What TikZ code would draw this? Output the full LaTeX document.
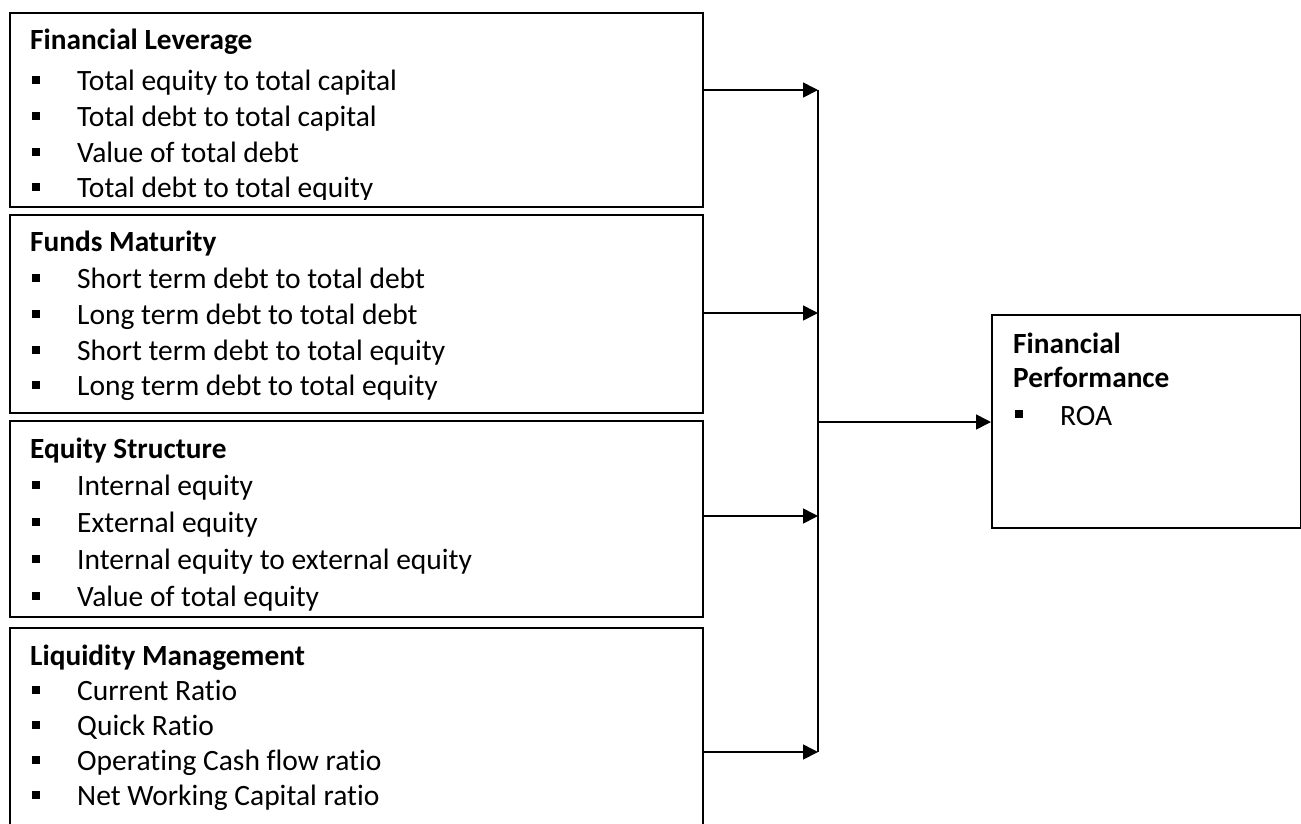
\documentclass[tikz,border=0pt]{standalone}
\usepackage{fontspec}
\setmainfont{Carlito}[Ligatures=NoCommon]
\usetikzlibrary{arrows.meta}
\begin{document}
\begin{tikzpicture}[x=1pt,y=-1pt,
  box/.style={draw=black,line width=1.6pt,rectangle,inner sep=0pt,anchor=north west},
  head/.style={anchor=base west,inner sep=0pt,font=\fontsize{29.3}{35}\selectfont\bfseries},
  itm/.style={anchor=base west,inner sep=0pt,font=\fontsize{29.5}{35}\selectfont},
  bul/.style={fill=black,rectangle,inner sep=0pt,minimum size=8pt},
  arr/.style={line width=1.6pt,-{Triangle[length=15pt,width=15pt]}},
  conn/.style={line width=1.6pt}]
\clip (0,0) rectangle (1301,823);
% boxes
\node[box,minimum width=693pt,minimum height=194pt] (b1) at (9,12) {};
\node[box,minimum width=693pt,minimum height=198pt] (b2) at (9,214) {};
\node[box,minimum width=693pt,minimum height=196pt] (b3) at (9,420) {};
\node[box,minimum width=693pt,minimum height=230pt] (b4) at (9,627) {};
\node[box,minimum width=309pt,minimum height=213pt] (perf) at (991,314) {};
% box 1
\node[head] (h1) at (30,49) {Financial Leverage};
\node[bul] (u11) at (36,80) {}; \node[itm] (t11) at (77,90) {Total equity to total capital};
\node[bul] (u12) at (36,116) {}; \node[itm] (t12) at (77,126) {Total debt to total capital};
\node[bul] (u13) at (36,152) {}; \node[itm] (t13) at (77,162) {Value of total debt};
\node[bul] (u14) at (36,187) {};
\begin{scope}
\clip (0,150) rectangle (700,199);
\node[itm] (t14) at (77,197) {Total debt to total equity};
\end{scope}
% box 2
\node[head] (h2) at (30,251) {Funds Maturity};
\node[bul] (u21) at (36,278) {}; \node[itm] (t21) at (77,288) {Short term debt to total debt};
\node[bul] (u22) at (36,314) {}; \node[itm] (t22) at (77,324) {Long term debt to total debt};
\node[bul] (u23) at (36,350) {}; \node[itm] (t23) at (77,360) {Short term debt to total equity};
\node[bul] (u24) at (36,385) {}; \node[itm] (t24) at (77,395) {Long term debt to total equity};
% box 3
\node[head] (h3) at (30,458) {Equity Structure};
\node[bul] (u31) at (36,485) {}; \node[itm] (t31) at (77,495) {Internal equity};
\node[bul] (u32) at (36,522) {}; \node[itm] (t32) at (77,532) {External equity};
\node[bul] (u33) at (36,559) {}; \node[itm] (t33) at (77,569) {Internal equity to external equity};
\node[bul] (u34) at (36,596) {}; \node[itm] (t34) at (77,606) {Value of total equity};
% box 4
\node[head] (h4) at (30,665) {Liquidity Management};
\node[bul] (u41) at (36,690) {}; \node[itm] (t41) at (77,700) {Current Ratio};
\node[bul] (u42) at (36,725) {}; \node[itm] (t42) at (77,735) {Quick Ratio};
\node[bul] (u43) at (36,760) {}; \node[itm] (t43) at (77,770) {Operating Cash flow ratio};
\node[bul] (u44) at (36,795) {}; \node[itm] (t44) at (77,805) {Net Working Capital ratio};
% right box
\node[head] (hp1) at (1013,353) {Financial};
\node[head] (hp2) at (1013,387) {Performance};
\node[bul] (up1) at (1019,414) {}; \node[itm] (tp1) at (1060,425) {ROA};
% connectors
\coordinate (j1) at (818,90);
\coordinate (j2) at (818,313);
\coordinate (j3) at (818,516);
\coordinate (j4) at (818,752);
\coordinate (jm) at (818,422);
\draw[conn] (j1) -- (j4);
\draw[arr] (b1.east |- j1) -- (j1);
\draw[arr] (b2.east |- j2) -- (j2);
\draw[arr] (b3.east |- j3) -- (j3);
\draw[arr] (b4.east |- j4) -- (j4);
\draw[arr] (jm) -- (perf.west |- jm);
\end{tikzpicture}
\end{document}
